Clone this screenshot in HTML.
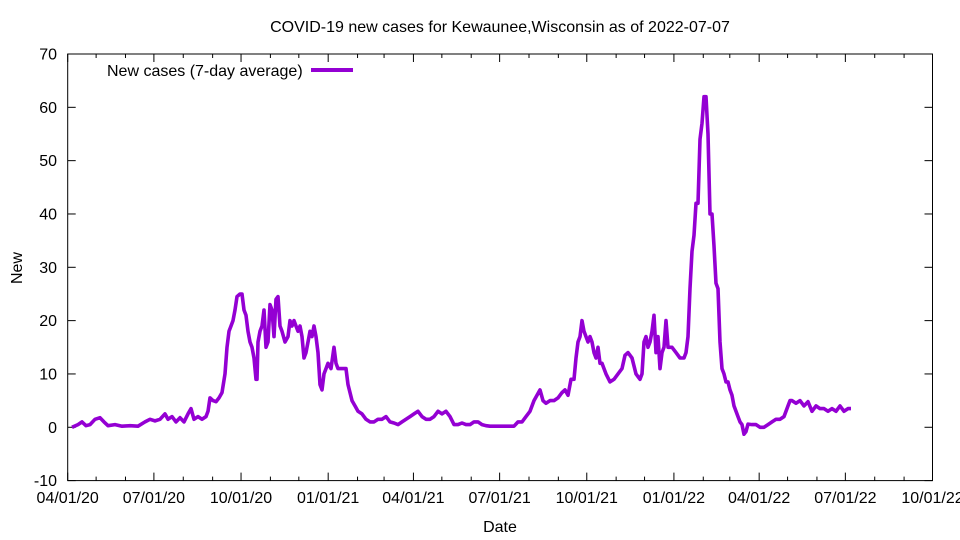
<!DOCTYPE html>
<html><head><meta charset="utf-8"><style>body{margin:0;background:#fff}svg{display:block}text{font-family:"Liberation Sans",sans-serif;fill:#000}</style></head>
<body>
<svg id="s" width="960" height="540" xmlns="http://www.w3.org/2000/svg">
<text x="500" y="32" font-size="16" text-anchor="middle">COVID-19 new cases for Kewaunee,Wisconsin as of 2022-07-07</text>
<text x="500" y="532" font-size="16" text-anchor="middle">Date</text>
<text x="22" y="268" font-size="16" text-anchor="middle" transform="rotate(-90 22 268)">New</text>
<text x="107" y="76" font-size="16">New cases (7-day average)</text>
<line x1="311" y1="70" x2="353" y2="70" stroke="#9400d3" stroke-width="4"/>
<g id="ax"></g>
<polyline id="pl" fill="none" stroke="#9400d3" stroke-width="3.6" stroke-linejoin="round"/>
</svg>
<script>
var L=67.7,R=932.5,T=54,B=480.6;
function Y(v){return T+(70-v)*(B-T)/80;}
var g=document.getElementById('ax'),h='';
h+='<rect x="'+L+'" y="'+T+'" width="'+(R-L)+'" height="'+(B-T)+'" fill="none" stroke="#000" stroke-width="1"/>';
for(var v=-10;v<=70;v+=10){var y=Y(v);h+='<line x1="'+L+'" y1="'+y+'" x2="'+(L+8)+'" y2="'+y+'" stroke="#000"/><line x1="'+R+'" y1="'+y+'" x2="'+(R-8)+'" y2="'+y+'" stroke="#000"/><text x="57" y="'+(y+5.5)+'" font-size="16" text-anchor="end">'+v+'</text>';}
var d0=Date.UTC(2020,3,1),ppd=(R-L)/913;
var labs=['04/01/20','07/01/20','10/01/20','01/01/21','04/01/21','07/01/21','10/01/21','01/01/22','04/01/22','07/01/22','10/01/22'];
for(var m=0;m<=30;m++){var dt=Date.UTC(2020,3+m,1),x=L+(dt-d0)/864e5*ppd;var len=m%3==0?8:4;
h+='<line x1="'+x+'" y1="'+B+'" x2="'+x+'" y2="'+(B-len)+'" stroke="#000"/><line x1="'+x+'" y1="'+T+'" x2="'+x+'" y2="'+(T+len)+'" stroke="#000"/>';
if(m%3==0)h+='<text x="'+x+'" y="503" font-size="16" text-anchor="middle">'+labs[m/3]+'</text>';}
g.innerHTML=h;
var d=[72,0,78,.5,82,1,86,.3,90,.5,95,1.5,100,1.8,104,1,108,.3,115,.5,122,.2,130,.3,138,.2,145,1,150,1.5,155,1.2,160,1.5,165,2.5,168,1.5,172,2,176,1,180,1.8,184,1,188,2.5,191,3.5,194,1.5,198,2,202,1.5,206,2,208,3,210,5.5,213,5,216,4.8,219,5.5,222,6.5,225,10,227,15,229,18,231,19,233,20,235,22,237,24.5,240,25,242,25,244,22,246,21,248,18,250,16,252,15,254,13,256,9,257,9,258,16,260,18,262,19,264,22,266,15,268,16,270,23,272,22,274,17,276,24,278,24.5,280,19,282,18,285,16,288,17,290,20,292,19,294,20,296,19,298,18,300,19,302,17,304,13,306,14,308,16,310,18,312,17,314,19,316,17,318,14,320,8,322,7,324,10,326,11,328,12,331,11,334,15,336,12,338,11,342,11,346,11,348,8,352,5,355,4,358,3,362,2.5,366,1.5,370,1,374,1,378,1.5,382,1.5,386,2,390,1,394,.8,398,.5,402,1,406,1.5,410,2,414,2.5,418,3,422,2,426,1.5,430,1.5,434,2,438,3,442,2.5,446,3,450,2,454,.5,458,.5,462,.8,466,.5,470,.5,474,1,478,1,482,.5,486,.3,490,.2,494,.2,498,.2,502,.2,506,.2,510,.2,514,.2,518,1,522,1,526,2,530,3,534,5,537,6,540,7,543,5,546,4.5,550,5,554,5,558,5.5,562,6.5,565,7,568,6,571,9,574,9,576,13,578,16,580,17,582,20,584,18,586,17,588,16,590,17,592,16,594,14,596,13,598,15,600,12,602,12,604,11,606,10,610,8.5,614,9,618,10,622,11,625,13.5,628,14,632,13,636,10,640,9,642,10,644,16,646,17,648,15,650,16,652,18,654,21,656,14,658,17,660,11,662,14,664,15,666,20,668,15,672,15,676,14,680,13,684,13,686,14,688,17,690,26,692,33,694,36,696,42,698,42,700,54,702,57,704,62,706,62,708,55,710,40,712,40,714,34,716,27,718,26,720,16,722,11,724,10,726,8.5,728,8.5,730,7,732,6,734,4,736,3,738,2,740,1,742,.5,744,-1.3,746,-.8,748,.6,752,.5,756,.5,760,0,764,0,768,.5,772,1,776,1.5,780,1.5,784,2,788,4,790,5,792,5,796,4.5,800,5,804,4,808,4.8,812,3,816,4,820,3.5,824,3.5,828,3,832,3.5,836,3,840,4,844,3,848,3.5,851,3.5];
var p=[];for(var i=0;i<d.length;i+=2)p.push(d[i]+','+Y(d[i+1]).toFixed(1));
document.getElementById('pl').setAttribute('points',p.join(' '));
</script>
</body></html>
